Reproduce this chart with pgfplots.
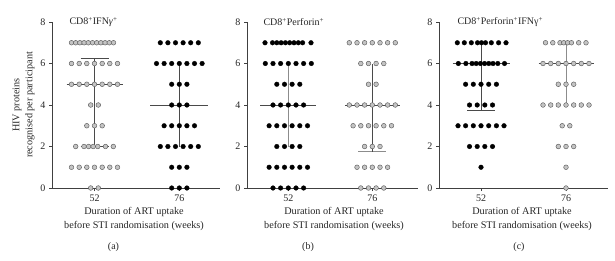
\documentclass[border=0pt]{standalone}
\usepackage{pgfplots}
\pgfplotsset{compat=1.18}
\usepackage{fontspec}
\setmainfont{Liberation Serif}
\definecolor{dotgray}{HTML}{C4C4C4}
\definecolor{edgegray}{HTML}{5A5A5A}
\definecolor{axgray}{HTML}{404040}
\definecolor{linegray}{HTML}{4A4A4A}
\definecolor{lightline}{HTML}{8C8C8C}
\pgfplotsset{
 panel/.style={
  scale only axis, height=166pt, anchor=south west,
  ymin=0, ymax=8, ytick={0,2,4,6,8}, xticklabels={52,76},
  axis x line*=bottom, axis y line*=left,
  axis line style={axgray, line width=0.6pt, -},
  tick align=outside, major tick length=3pt,
  tick style={axgray, line width=0.6pt},
  tick label style={font=\fontsize{10}{11}\selectfont, text=black!85},
  /pgf/number format/assume math mode=true,
  clip=false,
 },
 gdot/.style={only marks, mark=*, mark size=2.35pt, mark options={fill=dotgray, draw=edgegray, line width=0.45pt}},
 bdot/.style={only marks, mark=*, mark size=2.35pt, mark options={fill=black, draw=black, line width=0.3pt}},
 eb/.style={no marks, linegray, line width=0.7pt},
 ebl/.style={no marks, lightline, line width=0.8pt},
}
\begin{document}
\begin{tikzpicture}[x=1pt,y=1pt]
\path[use as bounding box] (0,0) rectangle (615,260);
% ---------------- panel (a)
\begin{axis}[panel, at={(52pt,72pt)}, width=168pt, xmin=52, xmax=220, xtick={94.5,179.3}]
% 52 weeks (grey)
\addplot[eb] coordinates {(66.5,5) (122.5,5)};
\addplot[eb] coordinates {(80.5,6.25) (108.5,6.25)};
\addplot[eb] coordinates {(80.5,2) (108.5,2)};
\addplot[eb] coordinates {(94.5,2) (94.5,6.25)};
\addplot[gdot] coordinates {
(71.5,7) (75.7,7) (79.9,7) (84.1,7) (88.3,7) (92.5,7) (96.7,7) (100.9,7) (105.1,7) (109.3,7) (113.5,7)
(71.5,6) (79.2,6) (86.8,6) (94.5,6) (102.2,6) (109.8,6) (117.5,6)
(71.5,5) (79.2,5) (86.8,5) (94.5,5) (102.2,5) (109.8,5) (117.5,5)
(90.7,4) (98.3,4)
(86.8,3) (94.5,3) (102.2,3)
(75.7,2) (84,2) (88.6,2) (93.2,2) (97.8,2) (105.5,2) (113.3,2)
(71.5,1) (79.2,1) (86.8,1) (94.5,1) (102.2,1) (109.8,1) (117.5,1)
(90.7,0) (98.3,0)
};
% 76 weeks (black)
\addplot[eb] coordinates {(150.3,4) (208.3,4)};
\addplot[eb] coordinates {(179.3,2) (179.3,6)};
\addplot[bdot] coordinates {
(160.3,7) (167.9,7) (175.5,7) (183.1,7) (190.7,7) (198.3,7)
(156.5,6) (164.1,6) (171.7,6) (179.3,6) (186.9,6) (194.5,6) (202.1,6)
(171.7,5) (179.3,5) (186.9,5)
(171.7,4) (179.3,4) (186.9,4)
(164.1,3) (171.7,3) (179.3,3) (186.9,3) (194.5,3)
(160.3,2) (167.9,2) (175.5,2) (183.1,2) (190.7,2) (198.3,2)
(171.7,1) (179.3,1) (186.9,1)
(171.7,0) (179.3,0) (186.9,0)
};
\end{axis}
% ---------------- panel (b)
\begin{axis}[panel, at={(247pt,72pt)}, width=171pt, xmin=247, xmax=418, xtick={288.3,372.3}]
% 52 weeks (black)
\addplot[eb] coordinates {(260.3,4) (316.3,4)};
\addplot[ebl] coordinates {(288.3,2) (288.3,6)};
\addplot[bdot] coordinates {
(265,7) (272.5,7) (276.8,7) (281.1,7) (285.4,7) (289.7,7) (294,7) (298.3,7) (302.6,7) (311,7)
(265.3,6) (273,6) (280.6,6) (288.3,6) (296,6) (303.6,6) (311.3,6)
(276.8,5) (284.5,5) (292.1,5) (299.8,5)
(273,4) (280.6,4) (288.3,4) (296,4) (303.6,4)
(269.1,3) (276.8,3) (284.5,3) (292.1,3) (299.8,3) (307.5,3)
(276.8,2) (284.5,2) (292.1,2) (299.8,2)
(269.1,1) (276.8,1) (284.5,1) (292.1,1) (299.8,1) (307.5,1)
(273,0) (280.6,0) (288.3,0) (296,0) (303.6,0)
};
% 76 weeks (grey)
\addplot[eb] coordinates {(344.8,4) (399.8,4)};
\addplot[ebl] coordinates {(358.3,1.75) (386.3,1.75)};
\addplot[eb] coordinates {(372.3,1.75) (372.3,6)};
\addplot[gdot] coordinates {
(349.3,7) (357,7) (364.6,7) (372.3,7) (380,7) (387.6,7) (395.3,7)
(360.8,6) (368.5,6) (376.1,6) (383.8,6)
(368.5,5) (376.1,5)
(349.3,4) (357,4) (364.6,4) (372.3,4) (380,4) (387.6,4) (395.3,4)
(353.1,3) (360.8,3) (368.5,3) (376.1,3) (383.8,3) (391.5,3)
(364.6,2) (372.3,2) (380,2)
(357,1) (364.6,1) (372.3,1) (380,1) (387.6,1)
(360.8,0) (368.5,0) (376.1,0) (383.8,0)
};
\end{axis}
% ---------------- panel (c)
\begin{axis}[panel, at={(439pt,72pt)}, width=169pt, xmin=439, xmax=608, xtick={481,566}]
% 52 weeks (black)
\addplot[eb] coordinates {(452.5,6) (509.5,6)};
\addplot[eb] coordinates {(467,3.75) (495,3.75)};
\addplot[eb] coordinates {(481,3.75) (481,7)};
\addplot[bdot] coordinates {
(457.3,7) (464.3,7) (471.3,7) (477.5,7) (481.5,7) (485.5,7) (491.3,7) (498.6,7) (506,7)
(458.3,6) (465.9,6) (472,6) (476.2,6) (480.4,6) (484.6,6) (488.8,6) (493,6) (497.8,6) (504.5,6)
(465.6,5) (473.3,5) (481,5) (488.7,5) (496.4,5)
(469.5,4) (477.2,4) (484.8,4) (492.5,4)
(458,3) (465.6,3) (473.3,3) (481,3) (488.7,3) (496.4,3) (504,3)
(469.5,2) (477.2,2) (484.8,2) (492.5,2)
(481,1)
};
% 76 weeks (grey)
\addplot[eb] coordinates {(538.5,6) (593.5,6)};
\addplot[ebl] coordinates {(566,4) (566,7)};
\addplot[gdot] coordinates {
(545.5,7) (552.8,7) (560,7) (563.8,7) (567.6,7) (571.4,7) (578.7,7) (586,7)
(543,6) (550.7,6) (558.3,6) (566,6) (573.7,6) (581.3,6) (589,6)
(558.3,5) (566,5) (573.7,5)
(543,4) (550.7,4) (558.3,4) (566,4) (573.7,4) (581.3,4) (589,4)
(562.2,3) (569.8,3)
(558.3,2) (566,2) (573.7,2)
(566,1)
(566,0)
};
\end{axis}
% ---------------- texts
\node[rotate=90, align=center, font=\fontsize{10.2}{13}\selectfont, text=black!85] at (23.5,155) {HIV proteins\\recognised per participant};
\node[anchor=west, font=\fontsize{10}{11}\selectfont, text=black!85] at (66,238) {CD8\textsuperscript{+}IFN\textit{γ}\textsuperscript{+}};
\node[anchor=west, font=\fontsize{10}{11}\selectfont, text=black!85] at (260,238) {CD8\textsuperscript{+}Perforin\textsuperscript{+}};
\node[anchor=west, font=\fontsize{10}{11}\selectfont, text=black!85] at (454,238) {CD8\textsuperscript{+}Perforin\textsuperscript{+}IFNγ\textsuperscript{+}};
\foreach \cx in {134,334,522}{
 \node[align=center, font=\fontsize{10.2}{14}\selectfont, text=black!85] at (\cx,41) {Duration of ART uptake\\before STI randomisation (weeks)};
}
\node[font=\fontsize{10}{11}\selectfont, text=black!85] at (113.5,13) {(a)};
\node[font=\fontsize{10}{11}\selectfont, text=black!85] at (308,13) {(b)};
\node[font=\fontsize{10}{11}\selectfont, text=black!85] at (519,13) {(c)};
\end{tikzpicture}
\end{document}
